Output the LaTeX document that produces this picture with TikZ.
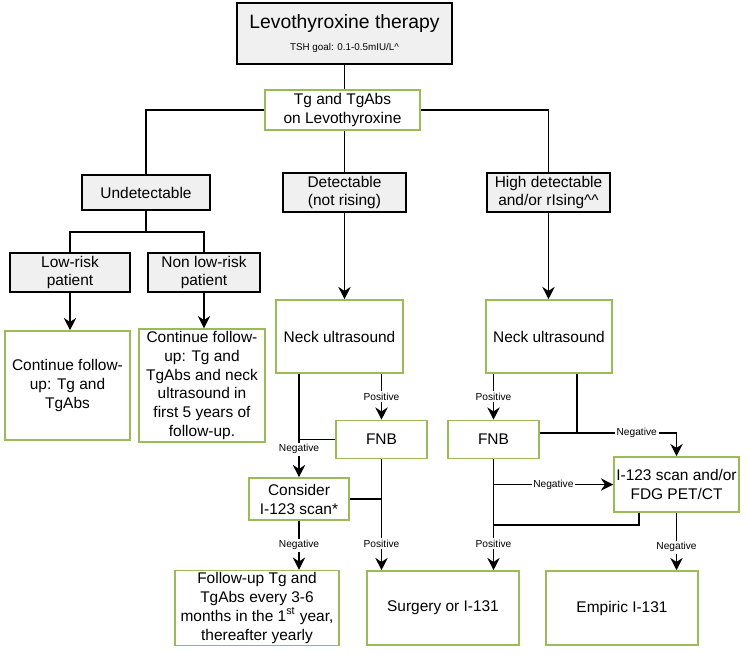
\documentclass[tikz,border=0pt]{standalone}
\usepackage{fontspec}
\setmainfont{Liberation Sans}
\usetikzlibrary{arrows.meta}
\definecolor{boxgreen}{HTML}{9BBB59}
\definecolor{boxgray}{HTML}{F0F0F0}
\begin{document}
\begin{tikzpicture}[x=0.02cm,y=-0.02cm,line width=0.7pt,
    box/.style={draw,align=center,inner sep=1pt,font={\fontsize{8.8}{10.8}\selectfont}},
    grey/.style={box,fill=boxgray},
    green/.style={box,draw=boxgreen,line width=0.9pt},
    arr/.style={-{Stealth[length=7pt,width=7pt]}},
    lbl/.style={fill=white,inner sep=1pt,font={\fontsize{5.8}{6.5}\selectfont}}]
    \useasboundingbox (0,0) rectangle (750,653);

    \node[grey,minimum width=4.3cm,minimum height=1.22cm] (levo) at (344.5,33.5) {
        {\fontsize{11}{13}\selectfont Levothyroxine therapy}\\[2pt]
        {\fontsize{5.6}{6}\selectfont TSH goal: 0.1-0.5mIU/L\^{}}
    };
    \node[green,minimum width=3.1cm,minimum height=0.8cm] (tg) at (342.5,110) {Tg and TgAbs\\on Levothyroxine};

    \node[grey,minimum width=2.56cm,minimum height=0.7cm] (undet) at (146,192.5) {Undetectable};
    \node[grey,minimum width=2.46cm,minimum height=0.78cm] (det) at (344.5,192.5) {Detectable\\(not rising)};
    \node[grey,minimum width=2.46cm,minimum height=0.78cm] (high) at (548.5,192.5) {High detectable\\and/or rIsing\^{}\^{}};

    \node[grey,minimum width=2.4cm,minimum height=0.78cm] (low) at (70,272.5) {Low-risk\\patient};
    \node[grey,minimum width=2.24cm,minimum height=0.78cm] (nonlow) at (204,272.5) {Non low-risk\\patient};

    \node[green,minimum width=2.5cm,minimum height=2.18cm] (contA) at (67.5,385.5) {Continue follow-\\up: Tg and\\TgAbs};
    \node[green,minimum width=2.52cm,minimum height=2.18cm] (contB) at (202,385.5) {Continue follow-\\up: Tg and\\TgAbs and neck\\ultrasound in\\first 5 years of\\follow-up.};

    \node[green,minimum width=2.54cm,minimum height=1.46cm] (neckA) at (339.5,336.5) {Neck ultrasound};
    \node[green,minimum width=2.52cm,minimum height=1.46cm] (neckB) at (549,336.5) {Neck ultrasound};

    \node[green,minimum width=1.82cm,minimum height=0.76cm] (fnbA) at (381.5,439.5) {FNB};
    \node[green,minimum width=1.82cm,minimum height=0.76cm] (fnbB) at (493.5,439.5) {FNB};
    \node[green,minimum width=2cm,minimum height=0.84cm] (consider) at (299,499) {Consider\\I-123 scan*};
    \node[green,minimum width=2.5cm,minimum height=1.1cm] (scan) at (676.5,484.5) {I-123 scan and/or\\FDG PET/CT};

    \node[green,minimum width=3.28cm,minimum height=1.48cm] (follow) at (257,608) {Follow-up Tg and\\TgAbs every 3-6\\months in the 1\textsuperscript{st} year,\\thereafter yearly};
    \node[green,minimum width=3.04cm,minimum height=1.48cm] (surgery) at (443,608) {Surgery or I-131};
    \node[green,minimum width=3.04cm,minimum height=1.48cm] (empiric) at (622,608) {Empiric I-131};

    \coordinate (busU) at (146,232);
    \coordinate (jB) at (577,433);
    \coordinate (kB) at (639,525);

    % top part
    \draw (levo) -- (levo |- tg.north);
    \draw (tg.west) -| (undet);
    \draw (tg.east) -| (high);
    \draw (det |- tg.south) -- (det);
    \draw (undet) -- (busU);
    \draw (low) |- (busU) -| (nonlow);
    \draw[arr] (low) -- (low |- contA.north);
    \draw[arr] (nonlow) -- (nonlow |- contB.north);
    \draw[arr] (det) -- (det |- neckA.north);
    \draw[arr] (high) -- (high |- neckB.north);

    % detectable branch
    \draw[arr] (neckA.south -| fnbA) -- node[lbl]{Positive} (fnbA);
    \draw[arr] (neckA.south -| consider) -- node[lbl,pos=0.73]{Negative} (consider);
    \draw (fnbA.west) -- (fnbA.west -| consider);
    \draw[arr] (fnbA) -- node[lbl,pos=0.76]{Positive} (fnbA |- surgery.north);
    \draw (consider.east) -- (consider.east -| fnbA);
    \draw[arr] (consider) -- node[lbl,pos=0.5]{Negative} (consider |- follow.north);

    % high detectable branch
    \draw[arr] (neckB.south -| fnbB) -- node[lbl]{Positive} (fnbB);
    \draw (neckB.south -| jB) -- (jB);
    \draw[arr] (fnbB.east |- jB) -- (jB) -| node[lbl,pos=0.3]{Negative} (scan.north);
    \draw[arr] (fnbB.south |- scan.west) -- node[lbl]{Negative} (scan.west);
    \draw[arr] (fnbB) -- node[lbl,pos=0.76]{Positive} (fnbB |- surgery.north);
    \draw (scan.south -| kB) -- (kB) -- (kB -| fnbB);
    \draw[arr] (scan) -- node[lbl,pos=0.6]{Negative} (scan |- empiric.north);
\end{tikzpicture}
\end{document}
